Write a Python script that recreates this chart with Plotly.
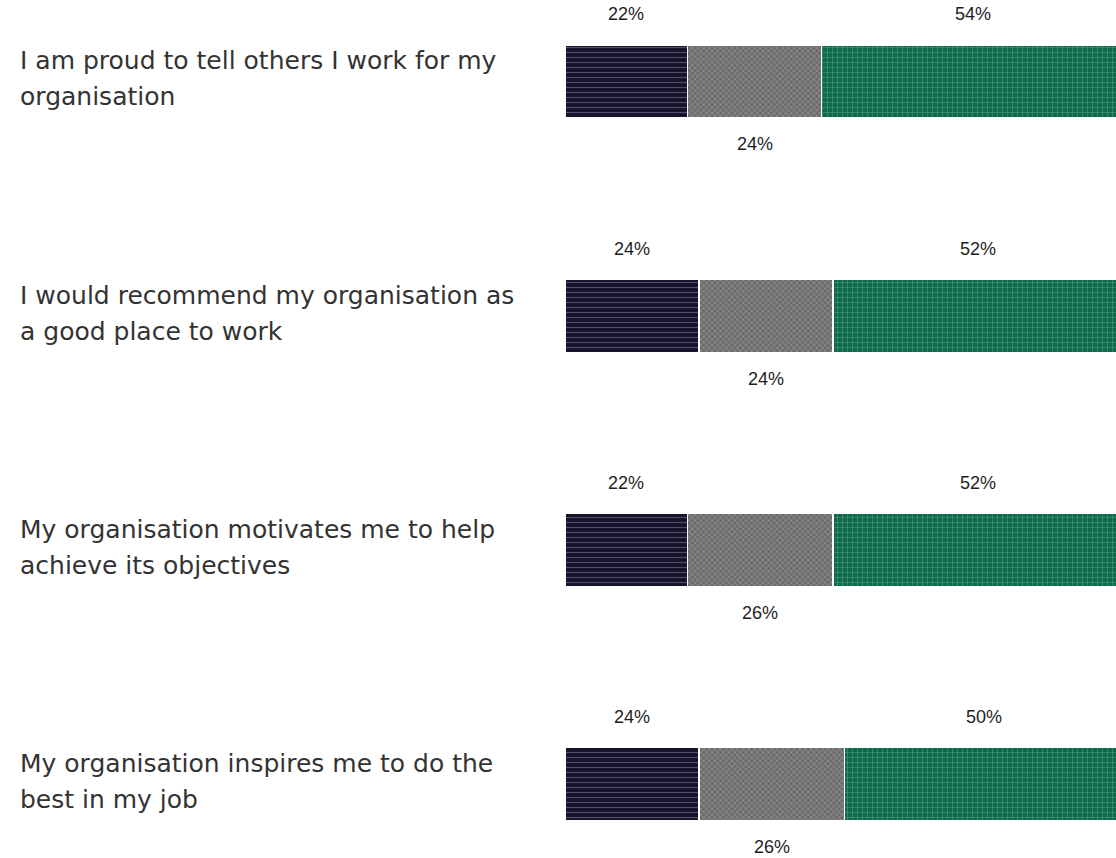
import plotly.graph_objects as go

questions = [
    ["I am proud to tell others I work for my", "organisation"],
    ["I would recommend my organisation as", "a good place to work"],
    ["My organisation motivates me to help", "achieve its objectives"],
    ["My organisation inspires me to do the", "best in my job"],
]
series_names = ["Disagree", "Neutral", "Agree"]
disagree = [22, 24, 22, 24]
neutral = [24, 24, 26, 26]
agree = [54, 52, 52, 50]

values = [disagree, neutral, agree]
styles = [
    dict(color="#16122c", shape="-", fg="#8d88a6", size=5, solidity=0.22),
    dict(color="#6c6c6c", shape="x", fg="#b0b0b0", size=4, solidity=0.4),
    dict(color="#0d6a4b", shape="+", fg="#9fcbb9", size=5, solidity=0.2),
]

ypos = list(range(len(questions)))
fig = go.Figure()
for name, vals, st in zip(series_names, values, styles):
    fig.add_trace(go.Bar(
        y=ypos, x=vals, orientation="h", name=name, width=0.312,
        marker=dict(
            color=st["color"],
            line=dict(color="white", width=1.2),
            pattern=dict(shape=st["shape"], fgcolor=st["fg"], size=st["size"],
                         solidity=st["solidity"], fillmode="overlay"),
        ),
        hoverinfo="skip",
    ))

annotations = []
pct_font = dict(family="Liberation Sans, Arial, sans-serif", size=18, color="#1e1e1e")
lab_font = dict(family="DejaVu Sans, sans-serif", size=25, color="#333333")
for i in ypos:
    d, n, a = disagree[i], neutral[i], agree[i]
    annotations.append(dict(x=d / 2, y=i, text=f"{d}%", showarrow=False, yshift=67,
                            xanchor="center", yanchor="middle", font=pct_font))
    annotations.append(dict(x=d + n / 2, y=i, text=f"{n}%", showarrow=False, yshift=-63,
                            xanchor="center", yanchor="middle", font=pct_font))
    annotations.append(dict(x=d + n + a / 2, y=i, text=f"{a}%", showarrow=False, yshift=67,
                            xanchor="center", yanchor="middle", font=pct_font))
    line1, line2 = questions[i]
    annotations.append(dict(x=-0.99274, xref="paper", y=i, text=line1, showarrow=False,
                            yshift=20.5, xanchor="left", yanchor="middle", font=lab_font))
    annotations.append(dict(x=-0.99274, xref="paper", y=i, text=line2, showarrow=False,
                            yshift=-15.5, xanchor="left", yanchor="middle", font=lab_font))

fig.update_layout(
    width=1116, height=858,
    margin=dict(l=565, r=0, t=0, b=0),
    barmode="stack",
    showlegend=False,
    plot_bgcolor="white", paper_bgcolor="white",
    xaxis=dict(range=[0, 98.7], visible=False, fixedrange=True),
    yaxis=dict(range=[3.314, -0.3478], visible=False, fixedrange=True),
    annotations=annotations,
)
fig.write_html(
    "out.html",
    config={"displayModeBar": False},
    post_script="document.body.style.margin='0';document.body.style.overflow='hidden';",
)
